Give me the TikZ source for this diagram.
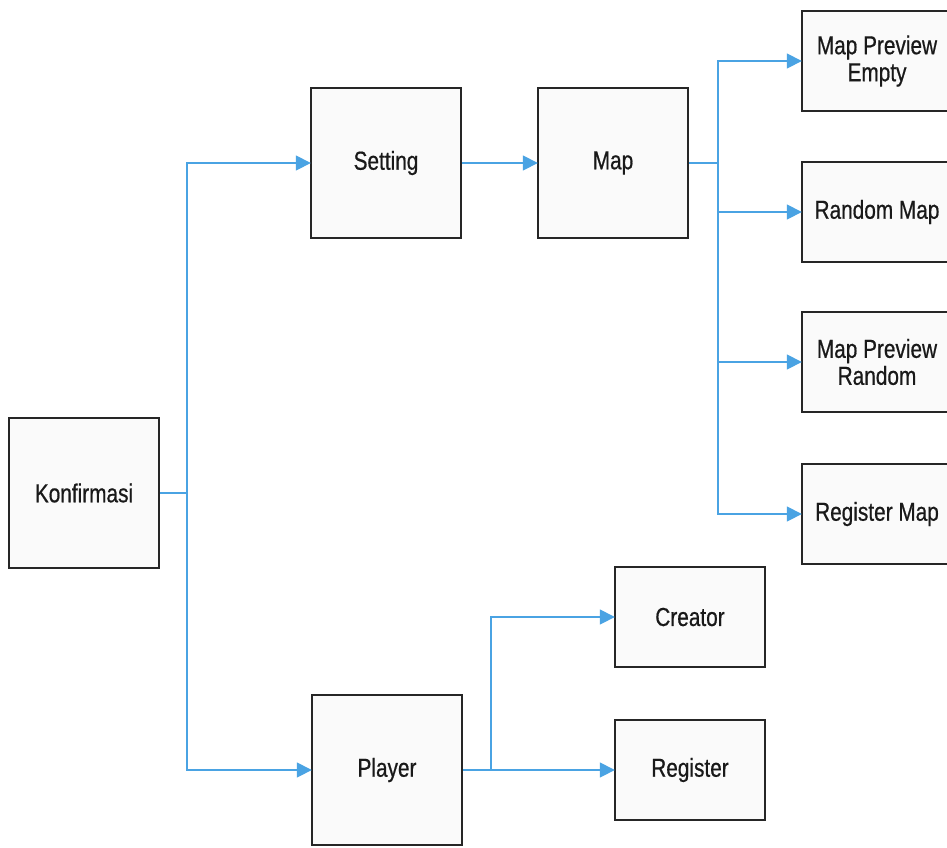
\documentclass[tikz,border=0pt]{standalone}
\usepackage{fontspec}
\setmainfont[FakeStretch=0.8, FakeBold=0.6]{Liberation Sans}
\usetikzlibrary{arrows.meta}
\definecolor{linkblue}{HTML}{4AA3E3}
\definecolor{boxfill}{HTML}{FAFAFA}
\tikzset{
  box/.style={draw=black!85, line width=2.4pt, fill=boxfill, minimum width=150pt,
    inner sep=0pt, align=center, font=\fontsize{26}{27}\selectfont, text=black!90},
  tall/.style={box, minimum height=150pt},
  flat/.style={box, minimum height=100pt},
  link/.style={draw=linkblue, line width=1.6pt},
  arr/.style={link, -{Triangle[length=15pt, width=15pt]}, shorten >=-1pt},
}
\begin{document}
\begin{tikzpicture}[x=1pt, y=-1pt]
\useasboundingbox (0,0) rectangle (947,847);
\clip (0,0) rectangle (947,847);

% main blocks
\node[tall] (konf) at (84,493) {Konfirmasi};
\node[tall] (set) at (386,163) {Setting};
\node[tall] (map) at (613,163) {Map};
\node[tall] (player) at (387,770) {Player};

% map options
\node[flat] (mpe) at (877,61) {Map Preview\\Empty};
\node[flat] (rnd) at (877,212) {Random Map};
\node[flat] (mpr) at (877,362) {Map Preview\\Random};
\node[flat] (rmap) at (877,514) {Register Map};

% player options
\node[flat] (creator) at (690,617) {Creator};
\node[flat] (reg) at (690,770) {Register};

% junction points of the buses
\coordinate (kj) at (187,493);
\coordinate (mj) at (718,163);
\coordinate (pj) at (491,770);

% Konfirmasi branches
\draw[link] (konf.east) -- (kj);
\draw[arr] (kj) |- (set.west);
\draw[arr] (kj) |- (player.west);

% Setting to Map
\draw[arr] (set.east) -- (map.west);

% Map branches
\draw[link] (map.east) -- (mj);
\draw[arr] (mj) |- (mpe.west);
\draw[arr] (mj) |- (rnd.west);
\draw[arr] (mj) |- (mpr.west);
\draw[arr] (mj) |- (rmap.west);

% Player branches
\draw[link] (player.east) -- (pj);
\draw[arr] (pj) |- (creator.west);
\draw[arr] (pj) -- (reg.west);
\end{tikzpicture}
\end{document}
